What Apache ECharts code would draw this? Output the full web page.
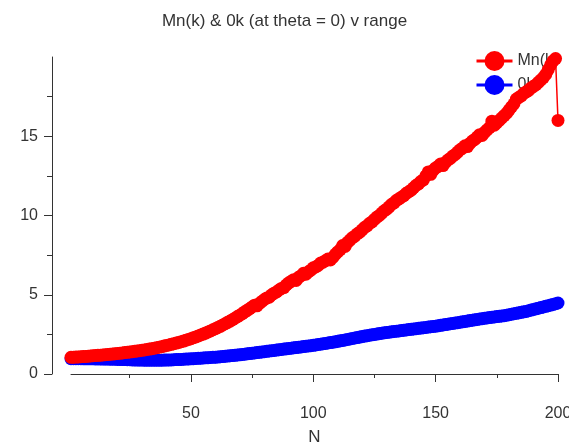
<!DOCTYPE html>
<html>
<head>
<meta charset="utf-8">
<script src="https://cdn.jsdelivr.net/npm/echarts@6/dist/echarts.min.js"></script>
<style>
  html, body { margin: 0; padding: 0; background: #fff; }
  #chart { width: 569px; height: 446px; }
</style>
</head>
<body>
<div id="chart"></div>
<script>
// Range N = 1..200
const nValues = Array.from({ length: 200 }, (_, i) => i + 1);

// Mn(k) at each N
const mnValues = [
  1.05, 1.06, 1.07, 1.08, 1.09, 1.10, 1.11, 1.12, 1.14, 1.15,
  1.16, 1.18, 1.19, 1.20, 1.22, 1.23, 1.25, 1.26, 1.28, 1.30,
  1.31, 1.33, 1.35, 1.37, 1.39, 1.41, 1.43, 1.45, 1.47, 1.50,
  1.52, 1.55, 1.57, 1.60, 1.63, 1.66, 1.69, 1.72, 1.76, 1.80,
  1.83, 1.87, 1.91, 1.95, 1.99, 2.04, 2.08, 2.13, 2.18, 2.23,
  2.29, 2.34, 2.40, 2.46, 2.52, 2.58, 2.65, 2.72, 2.79, 2.86,
  2.94, 3.01, 3.09, 3.17, 3.26, 3.34, 3.43, 3.52, 3.62, 3.71,
  3.81, 3.92, 4.02, 4.12, 4.23, 4.34, 4.30, 4.45, 4.58, 4.70,
  4.80, 4.85, 5.00, 5.10, 5.18, 5.30, 5.40, 5.45, 5.62, 5.75,
  5.85, 5.95, 5.90, 6.10, 6.20, 6.35, 6.30, 6.45, 6.55, 6.70,
  6.75, 6.85, 7.00, 7.05, 7.15, 7.25, 7.20, 7.35, 7.55, 7.70,
  7.85, 8.10, 8.05, 8.30, 8.45, 8.60, 8.70, 8.85, 8.95, 9.10,
  9.25, 9.35, 9.50, 9.60, 9.75, 9.90, 10.00, 10.15, 10.30, 10.40,
  10.55, 10.70, 10.80, 10.95, 11.05, 11.15, 11.25, 11.40, 11.50, 11.60,
  11.75, 11.90, 12.00, 12.15, 12.25, 12.50, 12.75, 12.60, 12.85, 13.00,
  13.10, 13.25, 13.15, 13.35, 13.50, 13.60, 13.75, 13.85, 14.00, 14.15,
  14.25, 14.40, 14.35, 14.55, 14.70, 14.80, 14.95, 15.10, 15.05, 15.25,
  15.40, 15.55, 15.95, 15.70, 15.85, 16.00, 16.15, 16.30, 16.45, 16.65,
  16.85, 17.05, 17.35, 17.45, 17.55, 17.70, 17.80, 17.90, 18.05, 18.15,
  18.25, 18.40, 18.55, 18.70, 18.90, 19.20, 19.50, 19.75, 19.90, 16.00
];

// 0k at each N
const okValues = [
  0.97, 0.97, 0.97, 0.97, 0.97, 0.96, 0.96, 0.96, 0.96, 0.96,
  0.95, 0.95, 0.95, 0.94, 0.94, 0.94, 0.93, 0.93, 0.93, 0.92,
  0.92, 0.91, 0.91, 0.90, 0.90, 0.89, 0.89, 0.88, 0.88, 0.88,
  0.87, 0.87, 0.87, 0.87, 0.87, 0.87, 0.87, 0.87, 0.88, 0.88,
  0.89, 0.89, 0.90, 0.91, 0.91, 0.92, 0.93, 0.94, 0.95, 0.96,
  0.97, 0.98, 0.99, 1.00, 1.01, 1.02, 1.03, 1.04, 1.05, 1.06,
  1.07, 1.09, 1.10, 1.12, 1.13, 1.15, 1.16, 1.18, 1.20, 1.21,
  1.23, 1.25, 1.27, 1.29, 1.31, 1.33, 1.35, 1.37, 1.39, 1.41,
  1.43, 1.45, 1.47, 1.49, 1.51, 1.53, 1.55, 1.57, 1.59, 1.61,
  1.63, 1.65, 1.67, 1.69, 1.71, 1.73, 1.75, 1.77, 1.79, 1.81,
  1.83, 1.86, 1.88, 1.91, 1.93, 1.96, 1.98, 2.01, 2.03, 2.06,
  2.09, 2.12, 2.15, 2.18, 2.21, 2.24, 2.27, 2.30, 2.33, 2.36,
  2.39, 2.42, 2.45, 2.47, 2.50, 2.52, 2.55, 2.57, 2.60, 2.62,
  2.64, 2.66, 2.68, 2.70, 2.72, 2.74, 2.76, 2.78, 2.80, 2.82,
  2.84, 2.86, 2.88, 2.90, 2.92, 2.94, 2.96, 2.98, 3.00, 3.02,
  3.04, 3.07, 3.09, 3.12, 3.14, 3.17, 3.19, 3.22, 3.24, 3.27,
  3.29, 3.32, 3.34, 3.37, 3.39, 3.42, 3.44, 3.47, 3.49, 3.52,
  3.54, 3.56, 3.58, 3.60, 3.62, 3.64, 3.66, 3.68, 3.71, 3.74,
  3.77, 3.80, 3.83, 3.86, 3.89, 3.92, 3.95, 3.99, 4.03, 4.07,
  4.11, 4.15, 4.19, 4.23, 4.27, 4.31, 4.35, 4.39, 4.44, 4.48
];

// Axis tick values
const xMajorTicks = [50, 100, 150, 200];
const xMinorTicks = [25, 75, 125, 175];
const yMajorTicks = [0, 5, 10, 15];
const yMinorTicks = [2.5, 7.5, 12.5, 17.5];

const seriesNames = ['Mn(k)', '0k'];

const FONT = '"Liberation Sans", Arial, sans-serif';
const INK = '#333';

const chart = echarts.init(document.getElementById('chart'), null, { renderer: 'canvas' });

const pairs = (ys) => nValues.map((n, i) => [n, ys[i]]);

const axisLineStyle = { show: true, lineStyle: { color: INK, width: 1 } };

chart.setOption({
  animation: false,
  backgroundColor: '#fff',
  title: {
    text: 'Mn(k) & 0k (at theta = 0) v range',
    left: 'center',
    top: 8,
    textStyle: { fontFamily: FONT, fontSize: 17, fontWeight: 'normal', color: INK }
  },
  legend: {
    data: seriesNames,
    orient: 'vertical',
    left: 475,
    top: 51,
    padding: 0,
    itemWidth: 36,
    itemHeight: 25,
    itemGap: 4,
    z: 1,
    lineStyle: { width: 3 },
    textStyle: { fontFamily: FONT, fontSize: 16, color: INK }
  },
  grid: {
    left: 71,
    right: 11,
    top: 57,
    bottom: 72,
    containLabel: false,
    outerBoundsMode: 'none'
  },
  xAxis: [
    {
      type: 'value',
      min: 1,
      max: 200,
      offset: 20,
      position: 'bottom',
      name: 'N',
      nameLocation: 'middle',
      nameGap: 35,
      nameTextStyle: { fontFamily: FONT, fontSize: 17, color: INK },
      axisLine: axisLineStyle,
      axisTick: { show: true, length: 8, customValues: xMajorTicks, lineStyle: { color: INK } },
      axisLabel: { show: true, customValues: xMajorTicks, margin: 12, fontFamily: FONT, fontSize: 16, color: INK },
      splitLine: { show: false }
    },
    {
      type: 'value',
      min: 1,
      max: 200,
      offset: 20,
      position: 'bottom',
      axisLine: { show: false },
      axisTick: { show: true, length: 4, customValues: xMinorTicks, lineStyle: { color: INK } },
      axisLabel: { show: false },
      splitLine: { show: false }
    }
  ],
  yAxis: [
    {
      type: 'value',
      min: 0,
      max: 20,
      offset: 19,
      position: 'left',
      axisLine: axisLineStyle,
      axisTick: { show: true, length: 8, customValues: yMajorTicks, lineStyle: { color: INK } },
      axisLabel: { show: true, customValues: yMajorTicks, margin: 14, fontFamily: FONT, fontSize: 16, color: INK },
      splitLine: { show: false }
    },
    {
      type: 'value',
      min: 0,
      max: 20,
      offset: 19,
      position: 'left',
      axisLine: { show: false },
      axisTick: { show: true, length: 5, customValues: yMinorTicks, lineStyle: { color: INK } },
      axisLabel: { show: false },
      splitLine: { show: false }
    }
  ],
  series: [
    {
      name: '0k',
      type: 'line',
      xAxisIndex: 0,
      yAxisIndex: 0,
      z: 3,
      data: pairs(okValues),
      symbol: 'circle',
      symbolSize: 13,
      showAllSymbol: true,
      color: '#0000ff',
      itemStyle: { color: '#0000ff' },
      lineStyle: { color: '#0000ff', width: 1.5 }
    },
    {
      name: 'Mn(k)',
      type: 'line',
      xAxisIndex: 0,
      yAxisIndex: 0,
      z: 3,
      data: pairs(mnValues),
      symbol: 'circle',
      symbolSize: 13,
      showAllSymbol: true,
      color: '#ff0000',
      itemStyle: { color: '#ff0000' },
      lineStyle: { color: '#ff0000', width: 1.5 }
    }
  ]
});
</script>
</body>
</html>
